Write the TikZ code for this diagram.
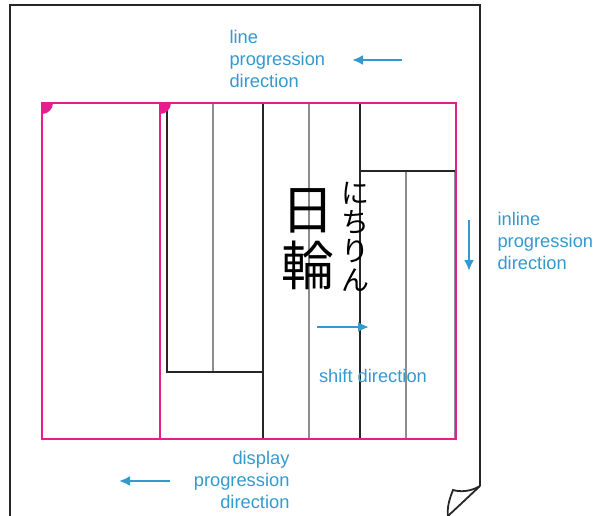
\documentclass[tikz,border=0pt]{standalone}
\usepackage{fontspec}
\setmainfont{Liberation Sans}
\newfontfamily\jpfont{Noto Sans CJK JP}
\usetikzlibrary{arrows.meta}

\definecolor{dirblue}{RGB}{51,153,207}
\definecolor{areapink}{RGB}{232,28,140}
\definecolor{rulegray}{RGB}{140,140,145}

\begin{document}
\begin{tikzpicture}[
    x=1pt, y=-1pt,
    page/.style={draw=black!85, line width=2.2pt},
    area/.style={draw=areapink, line width=2.2pt},
    boxline/.style={draw=black!85, line width=2pt},
    guide/.style={draw=rulegray, line width=1.6pt},
    dirarrow/.style={draw=dirblue, line width=2.4pt, -{Latex[length=11pt,width=10pt]}},
    dirlabel/.style={text=dirblue, font=\fontsize{18.3}{22}\selectfont}
]
\useasboundingbox (0,0) rectangle (595,516);

% -------------------------
% Page with curled corner
% -------------------------
\draw[page] (10,516) -- (10,5) -- (480,5) -- (480,486);
\draw[page, line width=1.8pt] (480,486) -- (448,516);
\draw[page, line width=1.8pt] (480,486) .. controls (470,492) and (460,492) .. (453,490)
    .. controls (449,500) and (447,508) .. (448,516);

% -------------------------
% Line boxes
% -------------------------
\draw[guide] (213,103) -- (213,372);
\draw[guide] (309,103) -- (309,439);
\draw[guide] (406,171) -- (406,439);
\draw[guide] (455,171) -- (455,439);
\draw[boxline] (167,103) -- (167,372) -- (263,372);
\draw[boxline] (263,103) -- (263,439);
\draw[boxline] (360,103) -- (360,439);
\draw[boxline] (360,171) -- (455,171);

% -------------------------
% Display areas
% -------------------------
\draw[area] (42,103) rectangle (456,439);
\draw[area] (160,103) -- (160,439);
\foreach \cx in {42,160} {
    \fill[areapink] (\cx,103) -- (\cx+11,103) .. controls (\cx+11,109) and (\cx+6,114) .. (\cx,114) -- cycle;
}

% -------------------------
% Sample text with ruby
% -------------------------
\node[font=\jpfont\fontsize{53}{56}\selectfont, align=center, inner sep=0pt] (Kanji) at (308,239) {日\\輪};
\node[font=\jpfont\fontsize{28}{29}\selectfont, align=center, inner sep=0pt] (Ruby) at (355,237) {に\\ち\\り\\ん};

% -------------------------
% Direction labels
% -------------------------
\node[dirlabel, anchor=west, align=left] (LineLabel) at (226,59) {line\\progression\\direction};
\node[dirlabel, anchor=west, align=left] (InlineLabel) at (494,241) {inline\\progression\\direction};
\node[dirlabel] (ShiftLabel) at (373,376) {shift direction};
\node[dirlabel, anchor=east, align=right] (DisplayLabel) at (293,480) {display\\progression\\direction};

% -------------------------
% Direction arrows
% -------------------------
\coordinate (LineFrom) at (402,60);
\coordinate (LineTo) at (352,60);
\coordinate (InlineFrom) at (469,220);
\coordinate (InlineTo) at (469,271);
\coordinate (ShiftFrom) at (317,327);
\coordinate (ShiftTo) at (369,327);
\coordinate (DisplayFrom) at (170,481);
\coordinate (DisplayTo) at (119,481);

\draw[dirarrow] (LineFrom) -- (LineTo);
\draw[dirarrow] (InlineFrom) -- (InlineTo);
\draw[dirarrow] (ShiftFrom) -- (ShiftTo);
\draw[dirarrow] (DisplayFrom) -- (DisplayTo);

\end{tikzpicture}
\end{document}
